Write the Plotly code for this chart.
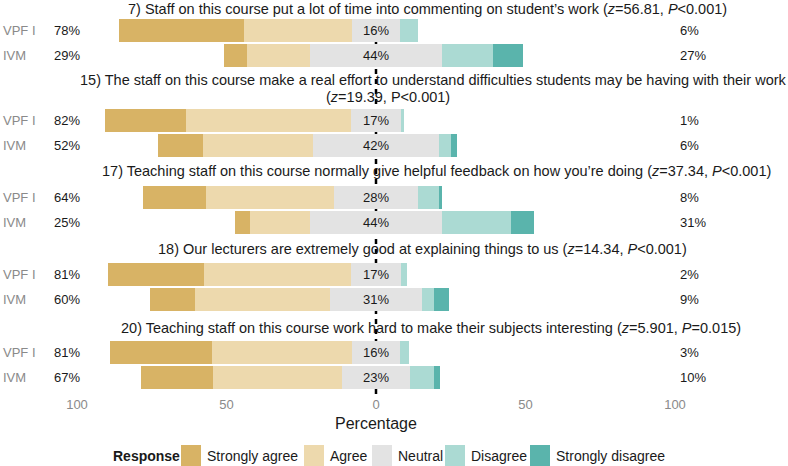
import plotly.graph_objects as go

# survey items (one panel each) and the two cohorts compared
titles = [
    "7) Staff on this course put a lot of time into commenting on student’s work (<i>z</i>=56.81, <i>P</i>&lt;0.001)",
    "15) The staff on this course make a real effort to understand difficulties students may be having with their work",
    "17) Teaching staff on this course normally give helpful feedback on how you’re doing (<i>z</i>=37.34, <i>P</i>&lt;0.001)",
    "18) Our lecturers are extremely good at explaining things to us (<i>z</i>=14.34, <i>P</i>&lt;0.001)",
    "20) Teaching staff on this course work hard to make their subjects interesting (<i>z</i>=5.901, <i>P</i>=0.015)",
]
title_line2 = "(<i>z</i>=19.39, P&lt;0.001)"  # second line of item 15
groups = ["VPF I", "IVM"]
levels = ["Strongly agree", "Agree", "Neutral", "Disagree", "Strongly disagree"]

# percentages per item (7, 15, 17, 18, 20)
sa_vpf = [42, 27, 21, 32, 34]
a_vpf = [36, 55, 43, 49, 47]
n_vpf = [16, 17, 28, 17, 16]
d_vpf = [6, 1, 7, 2, 3]
sd_vpf = [0, 0, 1, 0, 0]

sa_ivm = [8, 15, 5, 15, 24]
a_ivm = [21, 37, 20, 45, 43]
n_ivm = [44, 42, 44, 31, 23]
d_ivm = [17, 4, 23, 4, 8]
sd_ivm = [10, 2, 8, 5, 2]

colors = {
    "Strongly agree": "#D8B365",
    "Agree": "#EDD9AD",
    "Neutral": "#E3E3E3",
    "Disagree": "#ABDAD3",
    "Strongly disagree": "#5AB4AC",
}

W, H = 788, 466
def py(p):  # pixel row -> paper y
    return 1 - p / H
def px(p):
    return p / W

# panel layout (pixel rows) and title placement
panel_tops = [17.7, 107.6, 184.8, 261.7, 339.6]
panel_h = 50.4
title_pos = [(427, 9), (433, 80), (436, 171), (422, 249), (431, 328)]
line2_pos = (388, 97)

TXT = "#1A1A1A"
GRAY = "#8A8A8A"
FONT = "Liberation Sans, Arial, sans-serif"

fig = go.Figure()
annotations = []

for i in range(5):
    yname = "y" if i == 0 else f"y{i + 1}"
    sa = [sa_vpf[i], sa_ivm[i]]
    a = [a_vpf[i], a_ivm[i]]
    n = [n_vpf[i], n_ivm[i]]
    d = [d_vpf[i], d_ivm[i]]
    sd = [sd_vpf[i], sd_ivm[i]]

    # negative side stacks outward from zero: neutral half, agree, strongly agree
    segs = [
        ("Neutral", [-v / 2 for v in n]),
        ("Agree", [-v for v in a]),
        ("Strongly agree", [-v for v in sa]),
        ("Neutral", [v / 2 for v in n]),
        ("Disagree", d),
        ("Strongly disagree", sd),
    ]
    for lvl, xs in segs:
        fig.add_trace(go.Bar(
            x=xs, y=groups, orientation="h", yaxis=yname, xaxis="x",
            marker=dict(color=colors[lvl], line=dict(width=0)),
            width=0.9, name=lvl, showlegend=False, hoverinfo="skip",
        ))

    yref = yname
    for g, lo, mid, hi in zip(groups,
                              [s + b for s, b in zip(sa, a)], n,
                              [s + b for s, b in zip(d, sd)]):
        annotations.append(dict(x=-98.3, y=g, xref="x", yref=yref, text=f"{lo}%",
                                xanchor="right", showarrow=False, font=dict(color=TXT, size=13)))
        annotations.append(dict(x=0, y=g, xref="x", yref=yref, text=f"{mid}%",
                                xanchor="center", showarrow=False, font=dict(color=TXT, size=13)))
        annotations.append(dict(x=101, y=g, xref="x", yref=yref, text=f"{hi}%",
                                xanchor="left", showarrow=False, font=dict(color=TXT, size=13)))

    tx, ty = title_pos[i]
    annotations.append(dict(x=px(tx), y=py(ty), xref="paper", yref="paper", text=titles[i],
                            xanchor="center", yanchor="middle", showarrow=False,
                            font=dict(color=TXT, size=14.5)))

    top = panel_tops[i]
    fig.layout[f"yaxis{'' if i == 0 else i + 1}"] = dict(
        domain=[py(top + panel_h), py(top)], anchor="x", range=[-0.5, 1.5],
        categoryorder="array", categoryarray=["IVM", "VPF I"],
        ticklabelposition="inside", tickfont=dict(color=GRAY, size=13),
        showgrid=False, zeroline=False, showline=False, ticks="", automargin=False,
    )

annotations.append(dict(x=px(line2_pos[0]), y=py(line2_pos[1]), xref="paper", yref="paper",
                        text=title_line2, xanchor="center", yanchor="middle", showarrow=False,
                        font=dict(color=TXT, size=14.5)))

# axis title
annotations.append(dict(x=0, y=py(423), xref="x", yref="paper", text="Percentage",
                        xanchor="center", yanchor="middle", showarrow=False,
                        font=dict(color=TXT, size=16)))

# legend drawn by hand to get ggplot-sized keys
shapes = [dict(type="line", xref="x", yref="paper", x0=0, x1=0, y0=py(394), y1=py(16),
               line=dict(color="black", width=2.5, dash="5px,5px"), layer="below")]
annotations.append(dict(x=px(111), y=py(456), xref="paper", yref="paper", text="<b>Response</b>",
                        xanchor="left", yanchor="middle", showarrow=False, font=dict(color=TXT, size=14)))
key_x = [181, 304, 372, 445, 530]
for lvl, kx in zip(levels, key_x):
    shapes.append(dict(type="rect", xref="paper", yref="paper", x0=px(kx), x1=px(kx + 20),
                       y0=py(466), y1=py(445), fillcolor=colors[lvl], line=dict(width=0)))
    annotations.append(dict(x=px(kx + 24), y=py(456), xref="paper", yref="paper", text=lvl,
                            xanchor="left", yanchor="middle", showarrow=False,
                            font=dict(color=TXT, size=14)))

fig.update_layout(
    width=W, height=H,
    margin=dict(l=0, r=0, t=0, b=0),
    paper_bgcolor="white", plot_bgcolor="white",
    barmode="relative", bargap=0,
    font=dict(family=FONT, color=TXT),
    showlegend=False,
    xaxis=dict(
        domain=[0, 1], range=[-376 / 2.99, (W - 376) / 2.99],
        anchor="free", position=py(395),
        tickvals=[-100, -50, 0, 50, 100], ticktext=["100", "50", "0", "50", "100"],
        tickfont=dict(color=GRAY, size=13), ticks="",
        showgrid=False, zeroline=False, showline=False, automargin=False,
    ),
    annotations=annotations,
    shapes=shapes,
)

# drop the browser's default body margin so the figure sits at the page corner
fig.write_html("out.html", config={"displayModeBar": False},
               post_script="document.body.style.margin='0';document.body.style.overflow='hidden';")
